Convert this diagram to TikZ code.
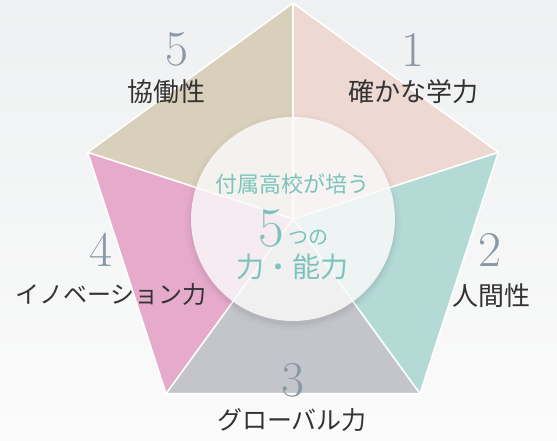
\documentclass[tikz,border=0pt]{standalone}
\usepackage{fontspec}
\usetikzlibrary{calc}
\newfontfamily\jp{Noto Sans CJK JP}
\definecolor{bgtop}{HTML}{EEF0F1}
\definecolor{bgmid}{HTML}{F3F4F4}
\definecolor{bgbot}{HTML}{FBFBFB}
\definecolor{cone}{HTML}{EDD9D2}
\definecolor{ctwo}{HTML}{B4DAD6}
\definecolor{cthree}{HTML}{C4C5CA}
\definecolor{cfour}{HTML}{E6AACB}
\definecolor{cfive}{HTML}{D9D0BB}
\definecolor{numc}{HTML}{8A98A6}
\definecolor{labc}{HTML}{333333}
\definecolor{teal}{HTML}{7CC3BB}
\tikzset{
  num/.style={text=numc, font=\fontsize{50}{50}\selectfont, inner sep=0pt},
  lab/.style={text=labc, inner sep=0pt},
  ctr/.style={text=teal, inner sep=0pt},
  divider/.style={white, line width=1.6pt, line join=miter}
}
\begin{document}
\begin{tikzpicture}[x=1pt,y=-1pt]
\useasboundingbox (0,0) rectangle (557,440);
\shade[top color=bgtop, middle color=bgmid, bottom color=bgbot] (0,0) rectangle (557,440);
\coordinate (O) at (293,219);
\coordinate (V0) at (293,3);
\coordinate (V1) at (498.4,152.3);
\coordinate (V2) at (420,393.7);
\coordinate (V3) at (166,393.7);
\coordinate (V4) at (87.6,152.3);
\fill[cone] (O) -- (V0) -- (V1) -- cycle;
\fill[ctwo] (O) -- (V1) -- (V2) -- cycle;
\fill[cthree] (O) -- (V2) -- (V3) -- cycle;
\fill[cfour] (O) -- (V3) -- (V4) -- cycle;
\fill[cfive] (O) -- (V4) -- (V0) -- cycle;
\draw[divider] (V0) -- (V1) -- (V2) -- (V3) -- (V4) -- cycle;
\foreach \v in {V0,V1,V2,V3,V4} \draw[divider] (O) -- (\v);
% circle with soft shadow
\foreach \r/\o in {108/0.015,105/0.025,103/0.035} \fill[black, opacity=\o] ($(O)+(0,3)$) circle (\r);
\fill[white, opacity=0.8] (O) circle (102);
% outer labels
\node[num] (n1) at (413,50) {1};
\node[lab, font=\jp\fontsize{26}{26}\selectfont] (l1) at (413,92) {確かな学力};
\node[num] (n2) at (490,250) {2};
\node[lab, font=\jp\fontsize{26}{26}\selectfont] (l2) at (491,296) {人間性};
\node[num] (n3) at (293,380) {3};
\node[lab, font=\jp\fontsize{25}{25}\selectfont] (l3) at (292,420) {グローバル力};
\node[num] (n4) at (101,250) {4};
\node[lab, font=\jp\fontsize{24}{24}\selectfont] (l4) at (111,294) {イノベーション力};
\node[num] (n5) at (177,49) {5};
\node[lab, font=\jp\fontsize{26}{26}\selectfont] (l5) at (166,92) {協働性};
% center text
\node[ctr, font=\jp\fontsize{22}{22}\selectfont] (t1) at (292,184) {付属高校が培う};
\node[ctr, font=\fontsize{56}{56}\selectfont] (big) at (271,228) {5};
\node[ctr, font=\jp\fontsize{20}{20}\selectfont] (tn) at (308,238) {つの};
\node[ctr, font=\jp\fontsize{28}{28}\selectfont] (t2) at (292,267) {力・能力};
\end{tikzpicture}
\end{document}
